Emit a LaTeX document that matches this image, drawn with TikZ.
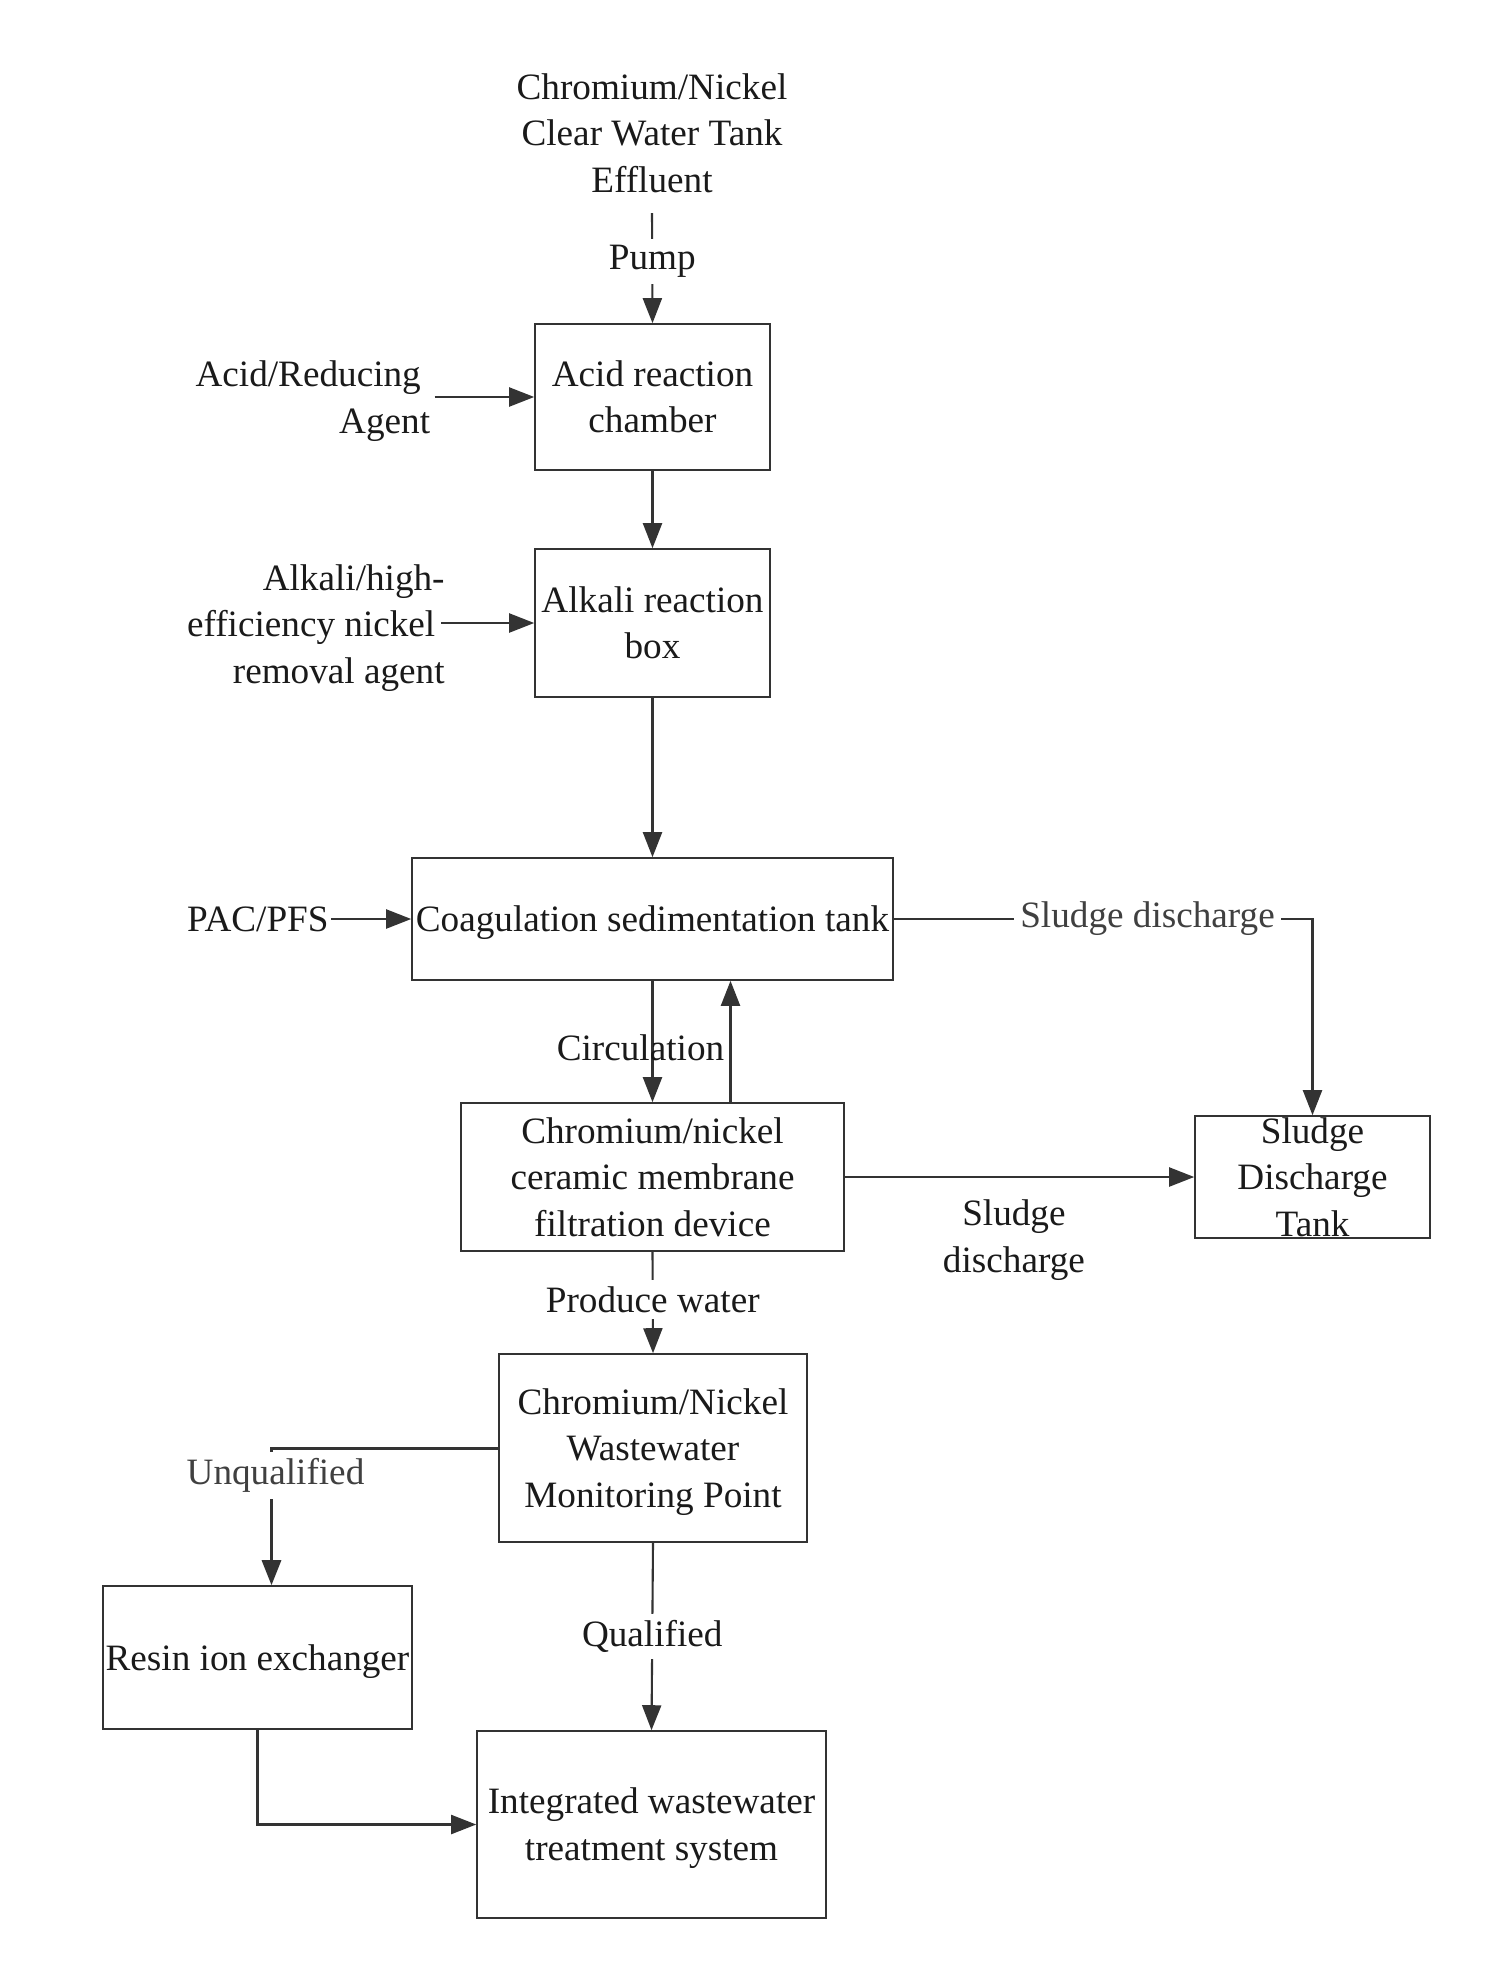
\documentclass[tikz,border=0pt]{standalone}
\usepackage{fontspec}
\setmainfont{Liberation Serif}
\usetikzlibrary{arrows.meta}
\definecolor{linec}{HTML}{333333}
\definecolor{txt}{HTML}{1A1A1A}
\definecolor{lbltxt}{HTML}{404040}
\newcommand\fstr{\rule{0pt}{17.95pt}}
\newcommand\lstr{\rule[-5.35pt]{0pt}{5.35pt}}
\newcommand\tsp{\rule{0.25em}{0pt}}
\begin{document}
\begin{tikzpicture}[x=0.5pt,y=-0.5pt,
  font=\fontsize{18.6}{23.3}\selectfont, text=txt,
  box/.style={draw=linec, line width=0.8pt, inner sep=0pt, align=center},
  flow/.style={draw=linec, line width=1.05pt, -{Triangle[length=12.5pt,width=9.5pt]}},
  lbl/.style={fill=white, inner sep=3pt},
  glbl/.style={lbl, text=lbltxt}]
\useasboundingbox (0,0) rectangle (1485,1975);
\fill[white] (0,0) rectangle (1485,1975);

% nodes
\node[align=center, inner xsep=4pt, inner ysep=10pt] (src) at (652,133) {Chromium/Nickel\\Clear Water Tank\\Effluent};
\node[box, minimum width=117.5pt, minimum height=73pt] (acid) at (652.5,397) {\fstr Acid reaction\\chamber\lstr};
\node[align=right, inner sep=2pt, anchor=east] (acidin) at (434.5,401) {Acid/Reducing\tsp\\Agent};
\node[box, minimum width=117.5pt, minimum height=74pt] (alk) at (652.5,623) {\fstr Alkali reaction\\box\lstr};
\node[align=right, inner sep=0pt, anchor=east] (alkin) at (445,628) {Alkali/high-\\efficiency nickel\tsp\\removal agent};
\node[box, minimum width=240.5pt, minimum height=61pt] (coag) at (652.5,919) {\fstr Coagulation sedimentation tank\lstr};
\node[inner sep=1pt, anchor=east] (pac) at (331,919) {PAC/PFS};
\node[box, minimum width=191.5pt, minimum height=74pt] (mem) at (652.5,1177) {\fstr Chromium/nickel\\ceramic membrane\\filtration device\lstr};
\node[box, minimum width=117.5pt, minimum height=61pt] (tank) at (1312.5,1177) {};
\node[align=center, inner sep=0pt] (tanktxt) at (tank.center) {\fstr Sludge\\Discharge\\Tank\lstr};
\node[box, minimum width=154pt, minimum height=94pt] (mon) at (653,1448) {\fstr Chromium/Nickel\\Wastewater\\Monitoring Point\lstr};
\node[box, minimum width=154.5pt, minimum height=71.5pt] (resin) at (257.5,1657.5) {\fstr Resin ion exchanger\lstr};
\node[box, minimum width=174.5pt, minimum height=93.5pt] (integ) at (651.5,1824.5) {\fstr Integrated wastewater\\treatment system\lstr};

% connectors
\draw[flow] (src.south) -- node[lbl, pos=0.44] (pump) {Pump} (acid.north);
\draw[flow] (acidin.east |- acid.west) -- (acid.west);
\draw[flow] (acid) -- (alk);
\draw[flow] ([xshift=-2pt]alkin.east |- alk.west) -- (alk.west);
\draw[flow] (alk) -- (coag);
\draw[flow] (pac.east) -- (coag.west);
\draw[flow] (coag.east) -| node[glbl, pos=0.303] (sd1) {Sludge discharge} (tank.north);
\draw[flow] (coag.south) -- node[pos=0.55, xshift=-6pt, inner sep=0pt] (circ) {Circulation} (mem.north);
\draw[flow] ([xshift=39pt]mem.north) -- ([xshift=39pt]coag.south);
\draw[flow] (mem.east) -- node[pos=0.484, yshift=-31.4pt, align=center, inner sep=0pt] (sd2) {Sludge\\discharge} (tank.west);
\draw[flow] (mem.south) -- node[lbl, pos=0.47] (pw) {Produce water} (mon.north);
\draw[flow, line width=1.5pt] (mon.west) -| node[glbl, pos=0.6, xshift=2pt] (unq) {Unqualified} ([xshift=7pt]resin.north);
\draw[flow] (mon.south) -- node[lbl] (qual) {Qualified} (integ.north);
\draw[flow] (resin.south) |- (integ.west);
\end{tikzpicture}
\end{document}
